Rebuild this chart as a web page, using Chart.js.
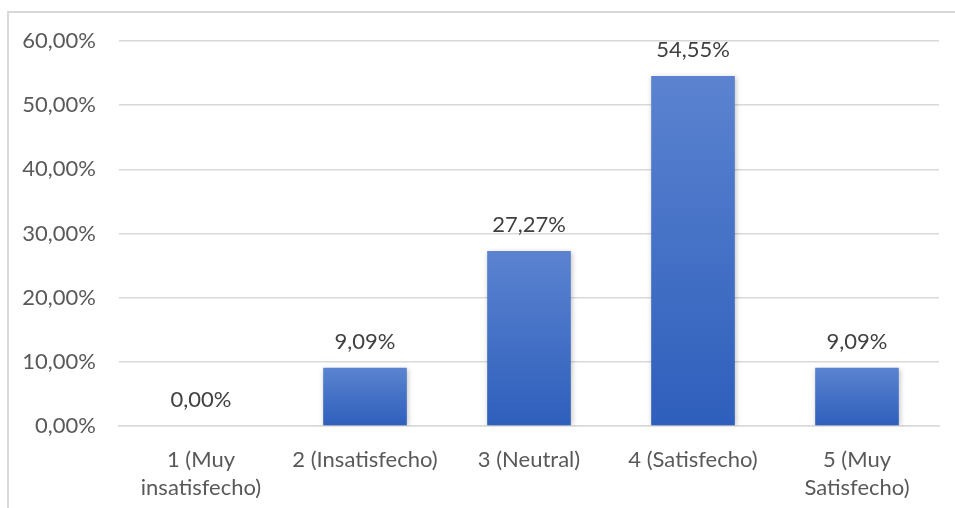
<!DOCTYPE html>
<html>
<head>
<meta charset="utf-8">
<script src="https://cdn.jsdelivr.net/npm/chart.js@4"></script>
<style>
    body { margin: 0; background: #fff; }
    #frame { position: absolute; left: 7px; top: 11px; width: 948px; height: 497px;
             border-top: 2px solid #d9d9d9; border-left: 2px solid #d9d9d9; box-sizing: border-box; }
    #wrap { position: absolute; left: 0; top: 0; width: 955px; height: 508px; }
</style>
</head>
<body>
<div id="frame"></div>
<div id="wrap"><canvas id="canvas-chart" width="955" height="508"></canvas></div>
<script>
'use strict'

let categories = [
    ["1 (Muy", "insatisfecho)"],
    "2 (Insatisfecho)",
    "3 (Neutral)",
    "4 (Satisfecho)",
    ["5 (Muy", "Satisfecho)"],
];
let percentages = [0, 9.09, 27.27, 54.55, 9.09];
let yTicks = [0, 10, 20, 30, 40, 50, 60];

function fmt(v) {
    return v.toFixed(2).replace(".", ",") + "%";
}

// per-bar gradient, lighter on top
function barFill(c) {
    let chart = c.chart;
    let y = chart.scales.y;
    if (!y || c.raw == null) return "#4472c4";
    let top = y.getPixelForValue(c.raw);
    let bottom = y.getPixelForValue(0);
    if (!isFinite(top) || !isFinite(bottom) || bottom - top < 1) return "#4472c4";
    let g = chart.ctx.createLinearGradient(0, top, 0, bottom);
    g.addColorStop(0, "#5b83d0");
    g.addColorStop(1, "#2e5fbc");
    return g;
}

let shadowPlugin = {
    id: "shadow",
    beforeDatasetDraw(chart) {
        let ctx = chart.ctx;
        ctx.save();
        ctx.shadowColor = "rgba(0,0,0,0.25)";
        ctx.shadowBlur = 5;
        ctx.shadowOffsetX = 1;
        ctx.shadowOffsetY = 1;
    },
    afterDatasetDraw(chart) {
        chart.ctx.restore();
    },
};

let labelPlugin = {
    id: "valueLabels",
    afterDatasetsDraw(chart) {
        let ctx = chart.ctx;
        let meta = chart.getDatasetMeta(0);
        ctx.save();
        ctx.font = "22px Lato";
        ctx.fillStyle = "#404040";
        ctx.textAlign = "center";
        ctx.textBaseline = "middle";
        meta.data.forEach(function (bar, i) {
            ctx.fillText(fmt(percentages[i]), bar.x, bar.y - 26);
        });
        ctx.restore();
    },
};

let chart = document.getElementById("canvas-chart").getContext("2d");

let chart1 = new Chart(chart, {
    type: "bar",
    data: {
        labels: categories,
        datasets: [
            {
                data: percentages,
                backgroundColor: barFill,
                borderWidth: 0,
                categoryPercentage: 1,
                barPercentage: 0.51,
            },
        ],
    },
    plugins: [shadowPlugin, labelPlugin],
    options: {
        responsive: false,
        animation: false,
        layout: { padding: { top: 41, right: 16, left: 0, bottom: 0 } },
        plugins: { legend: { display: false }, tooltip: { enabled: false } },
        scales: {
            x: {
                grid: { display: false, drawTicks: false },
                border: { display: true, color: "#d9d9d9", width: 1.5 },
                ticks: { color: "#595959", font: { family: "Lato", size: 22, lineHeight: 1.27 }, padding: 20, maxRotation: 0, autoSkip: false },
                afterFit(s) { s.height = 82; },
            },
            y: {
                min: 0,
                max: 60,
                afterBuildTicks(s) { s.ticks = yTicks.map(function (v) { return { value: v }; }); },
                grid: { color: "#d9d9d9", lineWidth: 1.5, drawTicks: false },
                border: { display: false },
                ticks: { color: "#595959", font: { family: "Lato", size: 22 }, padding: 23, callback: fmt },
                afterFit(s) { s.width = 119; },
            },
        },
    },
});
chart1.update();
</script>
</body>
</html>
